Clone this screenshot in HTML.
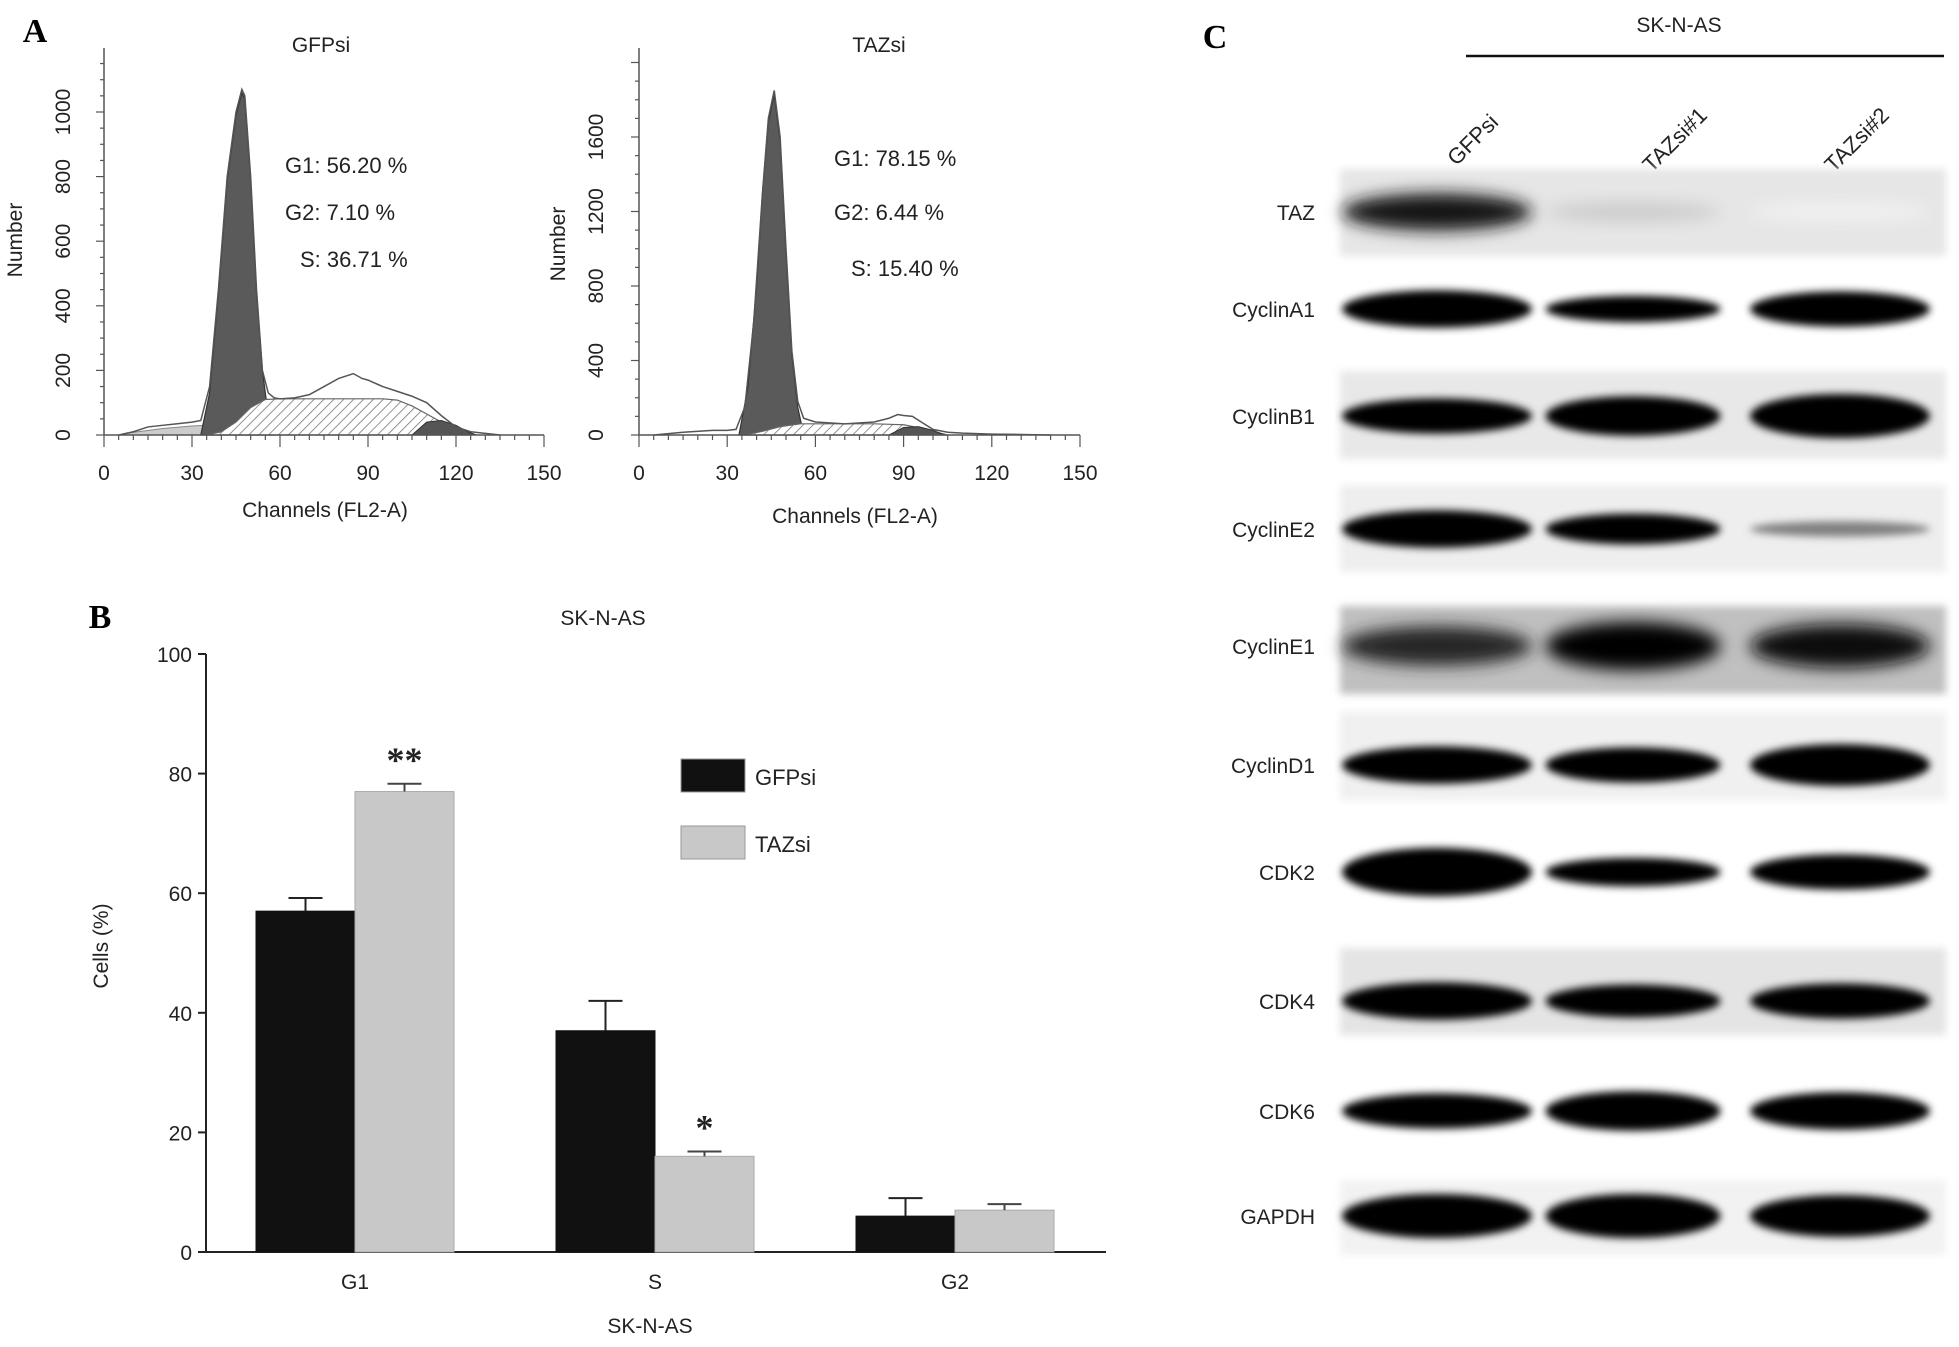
<!DOCTYPE html>
<html><head><meta charset="utf-8"><style>
body{margin:0;background:#fff}
svg{display:block;font-family:"Liberation Sans",sans-serif}
</style></head><body>
<svg id="fig" width="1959" height="1347" viewBox="0 0 1959 1347">
<defs>
<pattern id="hatch" patternUnits="userSpaceOnUse" width="7" height="7" patternTransform="rotate(45)"><rect width="7" height="7" fill="#fff"/><line x1="0" y1="0" x2="0" y2="7" stroke="#777" stroke-width="1.6"/></pattern>
<filter id="blur" x="-20%" y="-60%" width="140%" height="220%"><feGaussianBlur stdDeviation="4"/></filter>
<filter id="blurbg" x="-5%" y="-20%" width="110%" height="140%"><feGaussianBlur stdDeviation="4"/></filter>
<filter id="blur2" x="-20%" y="-60%" width="140%" height="220%"><feGaussianBlur stdDeviation="8"/></filter>
</defs>
<g id="panelA"></g>
<g id="panelB"></g>
<g id="panelC"></g>
</svg>
<script>
// ---- Panel A data ----
const leftRawCh=[5,10,15,20,25,30,33,36,39,42,45,47,48,50,52,54,56,58,60,65,70,75,80,85,88,90,95,100,105,110,115,120,125,130,135];
const leftRawCt=[0,10,25,30,35,40,45,150,450,800,1000,1070,1050,800,450,200,130,115,112,115,125,150,175,190,175,170,150,135,120,100,60,25,10,5,0];
const leftG1Ch=[33,36,39,42,45,47,48,50,52,54,56,58];
const leftG1Ct=[0,130,440,790,990,1060,1040,790,440,200,60,0];
const leftSCh=[35,40,45,50,55,60,95,100,105,110,115,120,125];
const leftSCt=[0,10,40,85,110,112,112,108,90,65,40,15,0];
const leftG2Ch=[105,110,115,120,124,127];
const leftG2Ct=[0,40,45,30,10,0];
const leftDebCh=[5,10,20,30,35,36];
const leftDebCt=[0,8,20,28,30,0];
const rightRawCh=[5,15,25,30,33,36,39,42,44,46,48,50,52,54,56,60,70,80,85,88,90,93,96,100,105,110,120,130,140];
const rightRawCt=[0,15,25,25,30,150,600,1300,1700,1850,1600,1000,450,180,90,70,60,70,90,110,105,100,70,30,15,10,5,3,0];
const rightG1Ch=[34,37,40,42,44,46,48,50,52,54,56];
const rightG1Ct=[0,250,800,1300,1680,1830,1580,980,430,150,0];
const rightSCh=[36,42,48,55,60,80,90,95,100,105];
const rightSCt=[0,20,45,60,60,60,55,40,20,0];
const rightG2Ch=[85,90,95,100,104];
const rightG2Ct=[0,40,45,25,0];
const leftYTicks=[0,200,400,600,800,1000];
const rightYTicks=[0,400,800,1200,1600];
const xTicks=[0,30,60,90,120,150];
// ---- Panel B data ----
const phases=["G1","S","G2"];
const gfpVals=[57,37,6];
const gfpErr=[2.2,5,3];
const tazVals=[77,16,7];
const tazErr=[1.3,0.8,1];
const barYTicks=[0,20,40,60,80,100];
const sigMarks=["**","*",""];
// ---- Panel C data ----
const proteins=["TAZ","CyclinA1","CyclinB1","CyclinE2","CyclinE1","CyclinD1","CDK2","CDK4","CDK6","GAPDH"];
const lanes=["GFPsi","TAZsi#1","TAZsi#2"];
const bandIntensity=[[0.9,0.2,0.05],[1,1,1],[1,1,1],[1,1,0.5],[0.85,1,0.95],[1,1,1],[1,1,1],[1,1,1],[1,1,1],[1,1,1]];
const bandThick=[[0.85,0.45,0.4],[0.85,0.6,0.8],[0.8,0.9,1],[0.85,0.7,0.35],[0.9,1.1,1],[0.85,0.8,0.95],[1.1,0.65,0.8],[0.85,0.75,0.8],[0.8,0.9,0.85],[1,1,0.95]];

const NS="http://www.w3.org/2000/svg";
function mk(tag,attrs,parent){const e=document.createElementNS(NS,tag);for(const k in attrs)e.setAttribute(k,attrs[k]);parent.appendChild(e);return e;}
function txt(s,x,y,size,parent,anchor,extra){const t=mk('text',Object.assign({x:x,y:y,'font-size':size,'text-anchor':anchor||'middle',fill:'#222'},extra||{}),parent);t.textContent=s;return t;}

// ---- Panel A ----
const A=document.getElementById('panelA');
const lbA=txt("A",35,42,34,A,'middle',{'font-family':'Liberation Serif','font-weight':'bold',fill:'#000'});


function hist(cfg){
  const g=mk('g',{},A);
  
  
  const sx=c=>cfg.x0+c*(cfg.x1-cfg.x0)/150;
  const sy=v=>cfg.y0-v*cfg.ky;
  const poly=(ch,ct)=>ch.map((c,i)=>sx(c)+','+sy(ct[i])).join(' ');
  if(cfg.deb){const d=mk('polygon',{points:poly(cfg.deb[0],cfg.deb[1]),fill:'#ccc',stroke:'#888','stroke-width':1},g);
    
    }
  const g1=mk('polygon',{points:poly(cfg.g1[0],cfg.g1[1]),fill:'#5a5a5a',stroke:'#333','stroke-width':1.2},g);
  
  
  const s=mk('polygon',{points:poly(cfg.s[0],cfg.s[1]),fill:'url(#hatch)',stroke:'#666','stroke-width':1.2},g);
  
  
  const g2=mk('polygon',{points:poly(cfg.g2[0],cfg.g2[1]),fill:'#555',stroke:'#333','stroke-width':1},g);
  
  
  const raw=mk('polyline',{points:poly(cfg.raw[0],cfg.raw[1]),fill:'none',stroke:'#555','stroke-width':1.5},g);
  
  
  const ax=mk('path',{d:`M${cfg.x0},${cfg.top} V${cfg.y0} H${cfg.x1}`,stroke:'#555','stroke-width':1.5,fill:'none'},g);
  
  
  for(let c=0;c<=150;c+=5){mk('line',{x1:sx(c),x2:sx(c),y1:cfg.y0,y2:cfg.y0+(c%30==0?12:5),stroke:'#555','stroke-width':1.2},g);}
  xTicks.forEach(c=>{const t=txt(String(c),sx(c),cfg.y0+45,21,g);
    
    });
  const step=cfg.yt[1]/4;
  for(let v=0;sy(v)>=cfg.top;v+=step){mk('line',{x1:cfg.x0,x2:cfg.x0-(v%cfg.yt[1]==0?8:4),y1:sy(v),y2:sy(v),stroke:'#555','stroke-width':1.2},g);}
  cfg.yt.forEach(v=>{const t=txt(String(v),cfg.labx,sy(v),21,g,'middle',{transform:`rotate(-90 ${cfg.labx} ${sy(v)})`});
    
    });
  const yt=txt("Number",cfg.ytx,cfg.yty,21,g,'middle',{transform:`rotate(-90 ${cfg.ytx} ${cfg.yty})`});
  
  
  const xt=txt("Channels (FL2-A)",cfg.xtx,cfg.xty,21,g);
  
  
  const tt=txt(cfg.title,cfg.tx,52,21,g);
  
  
  cfg.stats.forEach((s,i)=>{const t=txt(s[0],cfg.statx[i],s[1],22,g,'start');
    
    });
}
hist({name:'gfpsi-histogram',x0:104,x1:544,y0:435,top:48,ky:0.323,raw:[leftRawCh,leftRawCt],g1:[leftG1Ch,leftG1Ct],s:[leftSCh,leftSCt],g2:[leftG2Ch,leftG2Ct],deb:[leftDebCh,leftDebCt],
  yt:leftYTicks,labx:70,ytx:22,yty:240,xtx:325,xty:517,title:"GFPsi",tx:321,statx:[285,285,300],stats:[["G1: 56.20 %",173],["G2: 7.10 %",220],["S: 36.71 %",267]]});
hist({name:'tazsi-histogram',x0:639,x1:1080,y0:435,top:48,ky:0.18625,raw:[rightRawCh,rightRawCt],g1:[rightG1Ch,rightG1Ct],s:[rightSCh,rightSCt],g2:[rightG2Ch,rightG2Ct],
  yt:rightYTicks,labx:603,ytx:565,yty:244,xtx:855,xty:523,title:"TAZsi",tx:879,statx:[834,834,851],stats:[["G1: 78.15 %",166],["G2: 6.44 %",220],["S: 15.40 %",276]]});

// ---- Panel B ----
const B=document.getElementById('panelB');
const lbB=txt("B",100,628,34,B,'middle',{'font-family':'Liberation Serif','font-weight':'bold',fill:'#000'});


const bx0=206,by0=1252,byTop=654,bw=99;
const yB=v=>by0-v*(by0-byTop)/100;
const cx=i=>355+i*300;
const bt=txt("SK-N-AS",603,625,21,B);


const bax=mk('path',{d:`M${bx0},${byTop} V${by0} H1106`,stroke:'#222','stroke-width':2,fill:'none'},B);


barYTicks.forEach(v=>{mk('line',{x1:bx0-8,x2:bx0,y1:yB(v),y2:yB(v),stroke:'#222','stroke-width':2},B);
  const t=txt(String(v),bx0-14,yB(v)+8,21,B,'end');
  
  });
const byt=txt("Cells (%)",108,946,21,B,'middle',{transform:'rotate(-90 108 946)'});


phases.forEach((p,i)=>{
  [[gfpVals,gfpErr,'#111',-bw],[tazVals,tazErr,'#c8c8c8',0]].forEach(([vals,err,col,off],j)=>{
    const x=cx(i)+off, top=yB(vals[i]);
    const r=mk('rect',{x:x,y:top,width:bw,height:by0-top,fill:col,stroke:j?'#aaa':'#111','stroke-width':1},B);
    
    
    const xm=x+bw/2, ye=yB(vals[i]+err[i]);
    const e=mk('path',{d:`M${xm},${top} V${ye} M${xm-17},${ye} H${xm+17}`,stroke:j?'#444':'#222','stroke-width':2,fill:'none'},B);
    
    
    if(j&&sigMarks[i]){const s=txt(sigMarks[i],xm,ye-12,36,B,'middle',{'font-family':'Liberation Serif','font-weight':'bold'});
      
      }
  });
  const l=txt(p,cx(i),1289,21,B);
  
  
});
const bxt=txt("SK-N-AS",650,1333,21,B);


[["GFPsi",'#111',759],["TAZsi",'#c8c8c8',826]].forEach(([n,c,y])=>{
  const r=mk('rect',{x:681,y:y,width:64,height:33,fill:c,stroke:'#999','stroke-width':1},B);
  
  
  const t=txt(n,755,y+26,22,B,'start');
  
  
});

// ---- Panel C ----
const C=document.getElementById('panelC');
const lbC=txt("C",1215,48,34,C,'middle',{'font-family':'Liberation Serif','font-weight':'bold',fill:'#000'});


const ct=txt("SK-N-AS",1679,32,21,C);


const cl=mk('line',{x1:1466,x2:1944,y1:56,y2:56,stroke:'#111','stroke-width':2.5},C);


const laneCx=[1437,1633,1840];
const laneW=[190,175,180];
const laneLabX=[1478,1680,1862];
lanes.forEach((l,i)=>{const x=laneLabX[i],y=145;
  const t=txt(l,x,y,22,C,'middle',{transform:`rotate(-45 ${x} ${y})`});
  
  });
const rowY=[212,309,416,529,646,765,872,1001,1111,1216];
const bgRows=[[169,256,'#e6e6e6'],[371,459,'#e8e8e8'],[485,572,'#eeeeee'],[606,694,'#c0c0c0'],[712,800,'#f0f0f0'],[948,1035,'#e4e4e4'],[1180,1255,'#f2f2f2']];
bgRows.forEach(r=>{const b=mk('rect',{x:1340,y:r[0],width:606,height:r[1]-r[0],fill:r[2],filter:'url(#blurbg)'},C);
  
  });
proteins.forEach((p,i)=>{
  const t=txt(p,1315,rowY[i]+8,21,C,'end');
  
  
  lanes.forEach((l,j)=>{
    const a=bandIntensity[i][j], h=bandThick[i][j]*44;
    const g=Math.round(255*(1-a));
    const soft=(i==0||i==4);
    const e=mk('ellipse',{cx:laneCx[j],cy:rowY[i],rx:laneW[j]/2,ry:h/2,fill:`rgb(${g},${g},${g})`,filter:soft?'url(#blur2)':'url(#blur)'},C);
    
    
  });
});
</script>
</body></html>
